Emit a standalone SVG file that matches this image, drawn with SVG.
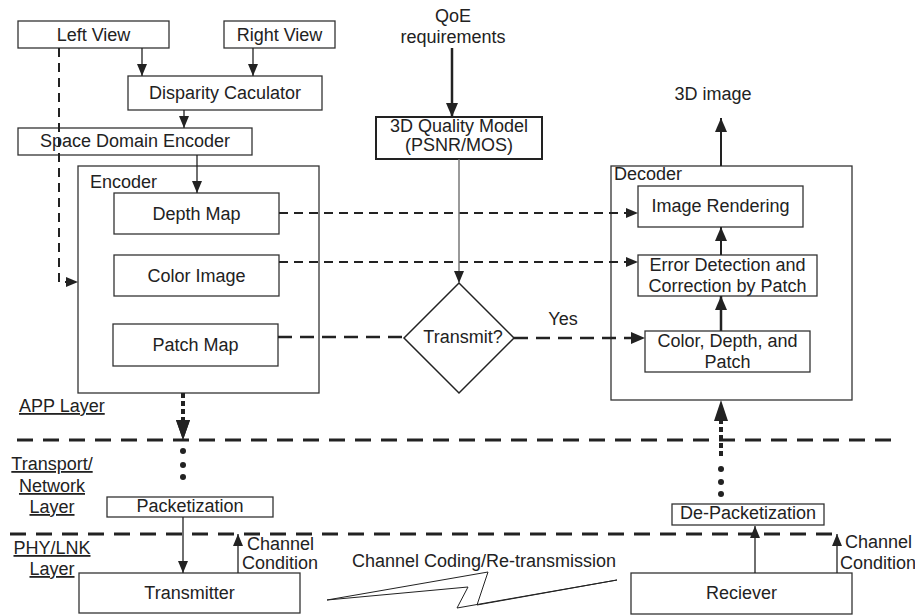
<svg xmlns="http://www.w3.org/2000/svg" width="915" height="616" viewBox="0 0 915 616">
<defs>
<style>
text{font-family:"Liberation Sans",Arial,sans-serif;font-size:18px;fill:#222}
.m{text-anchor:middle}
.u{text-decoration:underline}
.box{fill:#fff;stroke:#333;stroke-width:1.3}
.ln{fill:none;stroke:#222;stroke-width:1.3}
.dl{fill:none;stroke:#222;stroke-width:2;stroke-dasharray:9 6}
.dp{fill:none;stroke:#222;stroke-width:2.6;stroke-dasharray:14 8}
.lay{fill:none;stroke:#222;stroke-width:3;stroke-dasharray:16 10}
.dot{fill:none;stroke:#222;stroke-width:4;stroke-dasharray:5 3}
</style>
<marker id="a" viewBox="0 0 12 10" refX="12" refY="5" markerWidth="12" markerHeight="10" markerUnits="userSpaceOnUse" orient="auto"><path d="M0,0L12,5L0,10z" fill="#222"/></marker>
<marker id="b" viewBox="0 0 14 12" refX="14" refY="6" markerWidth="14" markerHeight="12" markerUnits="userSpaceOnUse" orient="auto"><path d="M0,0L14,6L0,12z" fill="#222"/></marker>
<marker id="c" viewBox="0 0 20 14" refX="20" refY="7" markerWidth="20" markerHeight="14" markerUnits="userSpaceOnUse" orient="auto"><path d="M0,0L20,7L0,14z" fill="#222"/></marker>
</defs>
<rect width="915" height="616" fill="#fff"/>

<g id="layers">
<line class="lay" x1="17" y1="440" x2="892" y2="440"/>
<line class="lay" x1="10" y1="534" x2="836" y2="534"/>
<text x="19" y="412" class="u">APP Layer</text>
<text x="52" y="470" class="m u">Transport/</text>
<text x="52" y="492" class="m u">Network</text>
<text x="52" y="513" class="m u">Layer</text>
<text x="52" y="554" class="m u">PHY/LNK</text>
<text x="52" y="575" class="m u">Layer</text>
</g>

<g id="left-view"><rect class="box" x="18" y="21" width="151" height="27"/><text x="93.5" y="40.5" class="m">Left View</text></g>
<g id="right-view"><rect class="box" x="224" y="21" width="111" height="27"/><text x="279.5" y="40.5" class="m">Right View</text></g>
<g id="disparity"><rect class="box" x="128" y="76" width="194" height="34"/><text x="225" y="99" class="m">Disparity Caculator</text></g>
<g id="space-encoder"><rect class="box" x="18" y="128" width="234" height="27"/><text x="135" y="147" class="m">Space Domain Encoder</text></g>
<g id="encoder"><rect class="box" x="78" y="166" width="241" height="227"/><text x="90" y="188">Encoder</text></g>
<g id="depth-map"><rect class="box" x="114" y="193" width="165" height="41"/><text x="196.5" y="220" class="m">Depth Map</text></g>
<g id="color-image"><rect class="box" x="114" y="255" width="165" height="41"/><text x="196.5" y="282" class="m">Color Image</text></g>
<g id="patch-map"><rect class="box" x="113" y="324" width="165" height="42"/><text x="195.5" y="351" class="m">Patch Map</text></g>

<g id="qoe"><text x="453" y="22" class="m">QoE</text><text x="453" y="43" class="m">requirements</text></g>
<g id="quality-model"><rect x="376" y="117" width="166" height="42" fill="#fff" stroke="#222" stroke-width="2"/><text x="459" y="132" class="m">3D Quality Model</text><text x="459" y="151" class="m">(PSNR/MOS)</text></g>
<g id="transmit"><path d="M404,338L459,283L514,338L459,393z" fill="#fff" stroke="#222" stroke-width="1.5"/><text x="463" y="343" class="m">Transmit?</text></g>

<g id="decoder"><rect class="box" x="611" y="166" width="241" height="234"/><text x="614" y="180">Decoder</text></g>
<g id="image-rendering"><rect class="box" x="638" y="186" width="165" height="41"/><text x="720.5" y="212" class="m">Image Rendering</text></g>
<g id="error-detection"><rect class="box" x="638" y="255" width="179" height="41"/><text x="727.5" y="271" class="m">Error Detection and</text><text x="727.5" y="292" class="m">Correction by Patch</text></g>
<g id="cdp"><rect class="box" x="645" y="331" width="165" height="41"/><text x="727.5" y="347" class="m">Color, Depth, and</text><text x="727.5" y="368" class="m">Patch</text></g>
<g id="image-3d"><text x="713" y="100" class="m">3D image</text></g>

<g id="packetization"><rect class="box" x="107" y="497" width="166" height="20"/><text x="190" y="512" class="m">Packetization</text></g>
<g id="depacketization"><rect class="box" x="672" y="504" width="152" height="21"/><text x="748" y="519" class="m">De-Packetization</text></g>
<g id="transmitter"><rect class="box" x="79" y="573" width="221" height="40"/><text x="189.5" y="599" class="m">Transmitter</text></g>
<g id="receiver"><rect class="box" x="631" y="573" width="221" height="41"/><text x="741.5" y="599" class="m">Reciever</text></g>
<g id="channel-labels">
<text x="247" y="550">Channel</text><text x="242" y="569">Condition</text>
<text x="845" y="548">Channel</text><text x="840" y="569">Condition</text>
<text x="352" y="567">Channel Coding/Re-transmission</text>
<text x="563" y="325" class="m">Yes</text>
</g>
<g id="bolt"><path d="M327,600L488,572L477,605L617,580L457,608L468,587z" fill="#fff" stroke="#222" stroke-width="1"/></g>

<g id="connectors">
<line class="ln" x1="142" y1="48" x2="142" y2="76" marker-end="url(#a)"/>
<line class="ln" x1="253" y1="48" x2="253" y2="76" marker-end="url(#a)"/>
<line class="ln" x1="184" y1="110" x2="184" y2="128" marker-end="url(#a)"/>
<line class="ln" x1="197" y1="155" x2="197" y2="193" marker-end="url(#a)"/>
<polyline class="dl" points="59,48 59,282 78,282" marker-end="url(#a)"/>
<line class="dl" x1="279" y1="213" x2="638" y2="213" marker-end="url(#a)"/>
<line class="dl" x1="279" y1="262" x2="638" y2="262" marker-end="url(#a)"/>
<line class="dp" x1="278" y1="337" x2="404" y2="337"/>
<line class="dp" x1="514" y1="338" x2="645" y2="338" marker-end="url(#b)"/>
<line x1="452" y1="48" x2="452" y2="117" stroke="#222" stroke-width="2.5" marker-end="url(#b)"/>
<line x1="459" y1="159" x2="459" y2="283" stroke="#777" stroke-width="1.5" marker-end="url(#a)"/>
<line x1="721" y1="166" x2="721" y2="118" stroke="#222" stroke-width="2" marker-end="url(#b)"/>
<line x1="721" y1="255" x2="721" y2="227" stroke="#222" stroke-width="2" marker-end="url(#b)"/>
<line x1="721" y1="331" x2="721" y2="296" stroke="#222" stroke-width="2.5" marker-end="url(#b)"/>
<line class="dot" x1="183" y1="393" x2="183" y2="422"/>
<line x1="183" y1="420" x2="183" y2="440" stroke="none" marker-end="url(#c)"/>
<path d="M176,420L190,420L183,440z" fill="#222"/>
<circle cx="183" cy="451" r="3" fill="#222"/><circle cx="183" cy="465" r="3" fill="#222"/><circle cx="183" cy="477" r="3" fill="#222"/>
<line class="dot" x1="721" y1="456" x2="721" y2="419"/>
<path d="M714,421L728,421L721,400z" fill="#222"/>
<circle cx="721" cy="469" r="3" fill="#222"/><circle cx="721" cy="482" r="3" fill="#222"/><circle cx="721" cy="494" r="3" fill="#222"/>
<line class="ln" x1="183" y1="517" x2="183" y2="573" marker-end="url(#a)"/>
<line class="ln" x1="238" y1="573" x2="238" y2="534" marker-end="url(#a)"/>
<line class="ln" x1="755" y1="573" x2="755" y2="526" marker-end="url(#a)"/>
<line class="ln" x1="837" y1="573" x2="837" y2="534" marker-end="url(#a)"/>
</g>
</svg>
